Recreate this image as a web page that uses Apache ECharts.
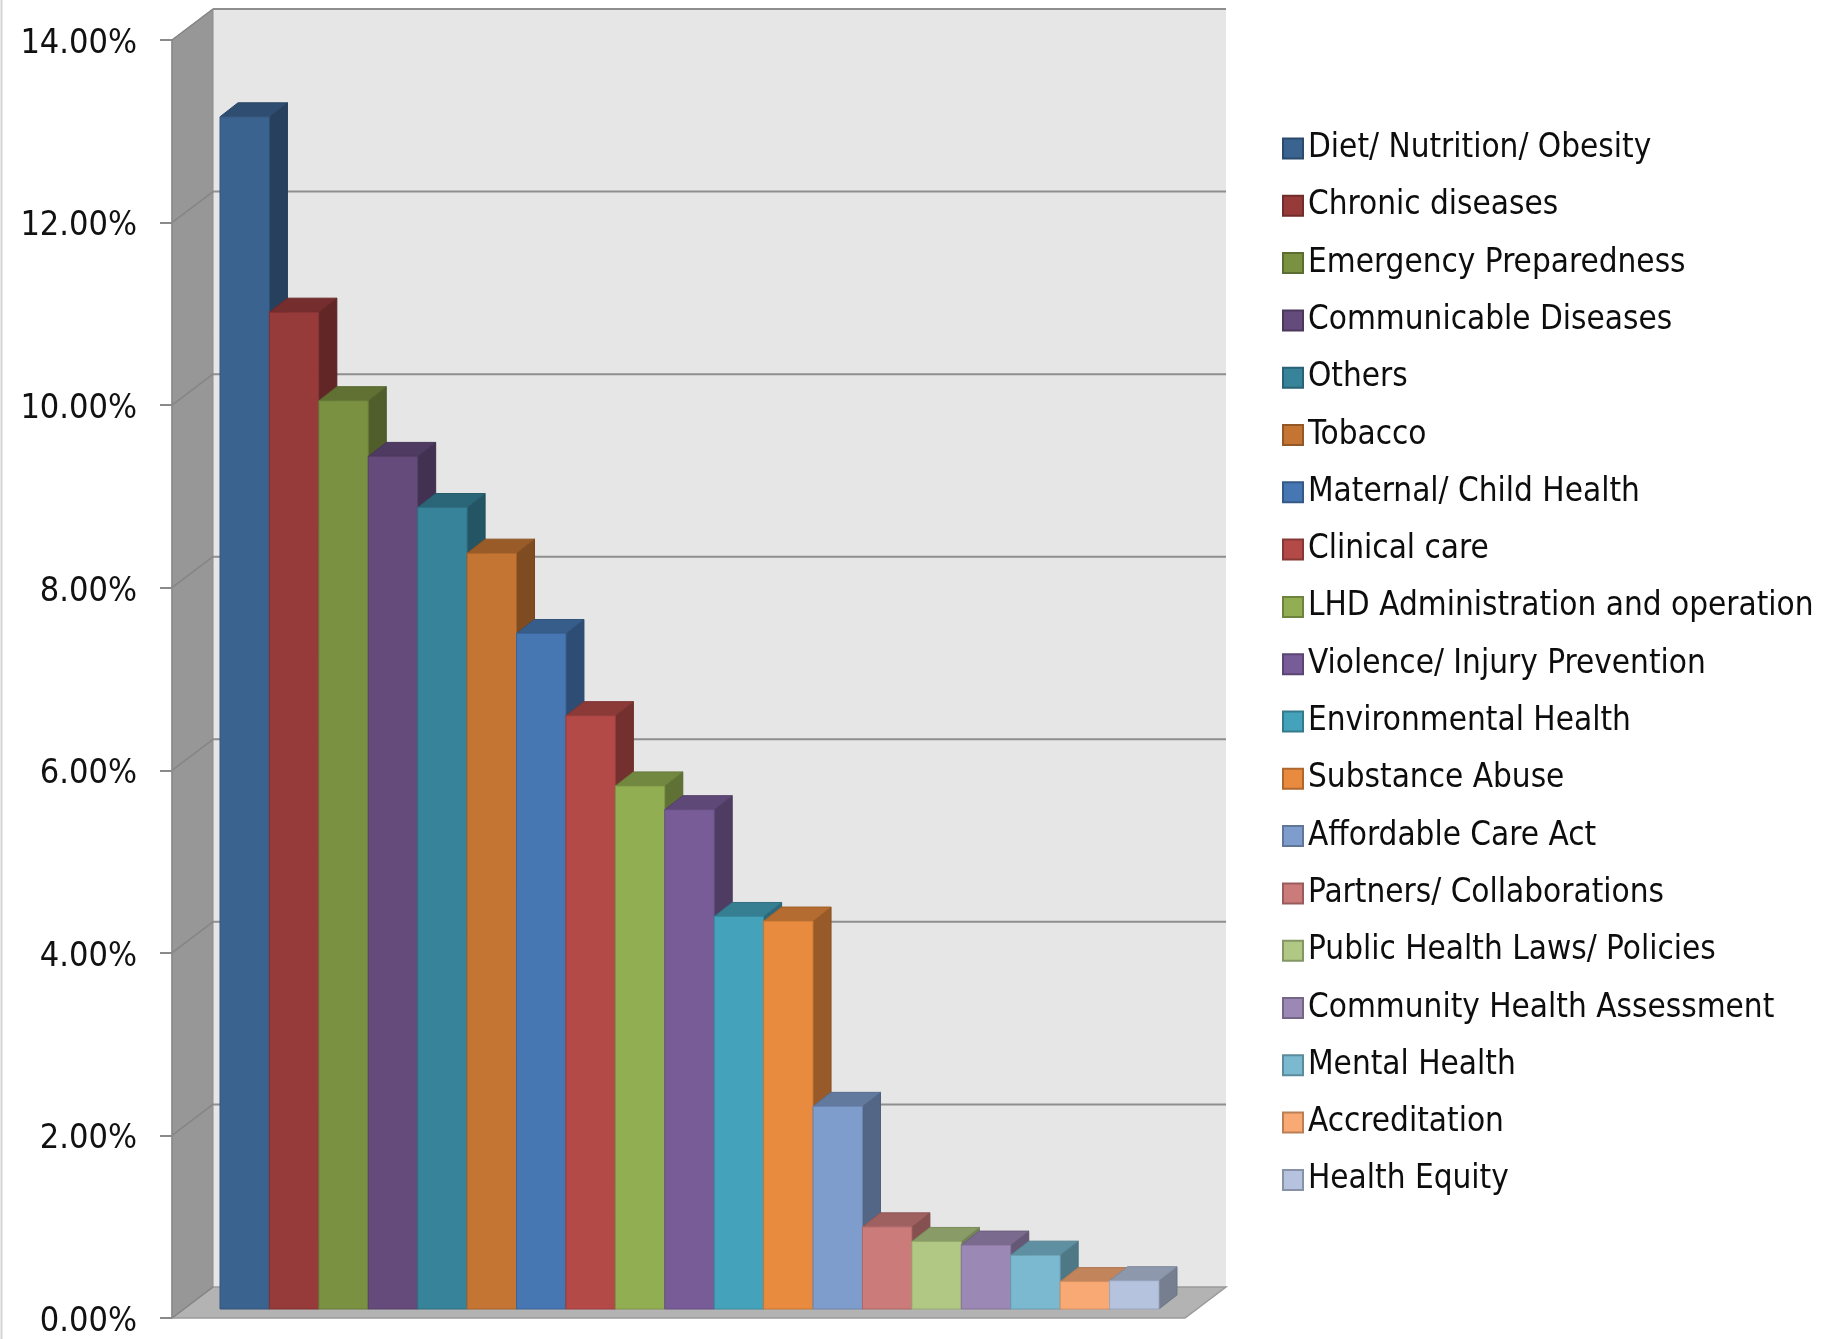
<!DOCTYPE html>
<html>
<head>
<meta charset="utf-8">
<style>
  html, body { margin: 0; padding: 0; background: #fff; }
  #chart { width: 1839px; height: 1339px; }
</style>
<script src="https://cdn.jsdelivr.net/npm/echarts@6/dist/echarts.min.js"></script>
</head>
<body>
<div id="chart"></div>
<script>
const categories = [
  'Diet/ Nutrition/ Obesity', 'Chronic diseases', 'Emergency Preparedness',
  'Communicable Diseases', 'Others', 'Tobacco', 'Maternal/ Child Health',
  'Clinical care', 'LHD Administration and operation', 'Violence/ Injury Prevention',
  'Environmental Health', 'Substance Abuse', 'Affordable Care Act',
  'Partners/ Collaborations', 'Public Health Laws/ Policies',
  'Community Health Assessment', 'Mental Health', 'Accreditation', 'Health Equity'
];
const shares = [13.06, 10.92, 9.95, 9.34, 8.78, 8.28, 7.40, 6.50, 5.73, 5.47,
  4.30, 4.25, 2.22, 0.90, 0.74, 0.70, 0.59, 0.30, 0.31];
const barColors = [
  '#3b6390', '#963a3a', '#7b9142', '#654b7c', '#37839a', '#c47533', '#4677b2',
  '#b34a47', '#92ae52', '#785c98', '#45a2bb', '#e88b3e', '#7f9dcc', '#cc7b7b',
  '#b0c884', '#9c88b5', '#7ab9cf', '#f9a974', '#b5c3de'
];
const yTicks = [0, 2, 4, 6, 8, 10, 12, 14];

const FONT = "'DejaVu Sans Condensed', 'DejaVu Sans', sans-serif";
const WALL = [41, -31];     // depth of the box (back wall offset)
const BAR_DEPTH = [18, -14]; // depth of each bar

function shade(hex, f) {
  const n = parseInt(hex.slice(1), 16);
  const r = Math.round(((n >> 16) & 255) * f);
  const g = Math.round(((n >> 8) & 255) * f);
  const b = Math.round((n & 255) * f);
  return 'rgb(' + r + ',' + g + ',' + b + ')';
}

const chart = echarts.init(document.getElementById('chart'));

// back wall, floor and side wall, plus the grid lines
function renderWalls(params, api) {
  const bl = api.coord([0, 0]);
  const br = api.coord([1, 0]);
  const tl = api.coord([0, 14]);
  const dx = WALL[0], dy = WALL[1];
  const kids = [];
  kids.push({ type: 'rect', shape: { x: bl[0] + dx, y: tl[1] + dy, width: br[0] - bl[0], height: bl[1] - tl[1] },
    style: { fill: '#e6e6e6' } });
  kids.push({ type: 'polygon', shape: { points: [[bl[0], bl[1]], [br[0], br[1]], [br[0] + dx, br[1] + dy], [bl[0] + dx, bl[1] + dy]] },
    style: { fill: '#b3b3b3', stroke: '#9a9a9a', lineWidth: 1.5 } });
  kids.push({ type: 'polygon', shape: { points: [[bl[0], bl[1]], [tl[0], tl[1]], [tl[0] + dx, tl[1] + dy], [bl[0] + dx, bl[1] + dy]] },
    style: { fill: '#979797', stroke: '#8c8c8c', lineWidth: 1 } });
  yTicks.forEach(function (t) {
    const p = api.coord([0, t]);
    if (t > 0) {
      kids.push({ type: 'line', shape: { x1: p[0] + dx, y1: p[1] + dy, x2: br[0] + dx, y2: p[1] + dy },
        style: { stroke: '#8e8e8e', lineWidth: 2 } });
    }
    kids.push({ type: 'line', shape: { x1: p[0], y1: p[1], x2: p[0] + dx, y2: p[1] + dy },
      style: { stroke: '#858585', lineWidth: 1.5 } });
  });
  return { type: 'group', children: kids };
}

function renderBar(params, api) {
  const base = api.coord([api.value(0), 0]);
  const tip = api.coord([api.value(0), api.value(1)]);
  const w = api.size([1, 0])[0];
  const c = barColors[params.seriesIndex - 1];
  const l = base[0] - w / 2, r = l + w, t = tip[1], b = base[1];
  const dx = BAR_DEPTH[0], dy = BAR_DEPTH[1];
  return {
    type: 'group',
    children: [
      { type: 'polygon', shape: { points: [[r, t], [r + dx, t + dy], [r + dx, b + dy], [r, b]] },
        style: { fill: shade(c, 0.65), stroke: shade(c, 0.6), lineWidth: 1 } },
      { type: 'polygon', shape: { points: [[l, t], [r, t], [r + dx, t + dy], [l + dx, t + dy]] },
        style: { fill: shade(c, 0.78), stroke: shade(c, 0.7), lineWidth: 1 } },
      { type: 'rect', shape: { x: l, y: t, width: w, height: b - t },
        style: { fill: c, stroke: shade(c, 0.85), lineWidth: 1 } }
    ]
  };
}

const series = [{
  type: 'custom',
  name: 'walls',
  xAxisIndex: 0,
  yAxisIndex: 0,
  silent: true,
  z: 1,
  data: [[0, 0]],
  renderItem: renderWalls
}];
categories.forEach(function (name, i) {
  series.push({
    type: 'custom',
    name: name,
    xAxisIndex: 1,
    yAxisIndex: 1,
    z: 3,
    itemStyle: { color: barColors[i], borderColor: shade(barColors[i], 0.75), borderWidth: 1 },
    data: [[i, shares[i]]],
    renderItem: renderBar
  });
});

chart.setOption({
  animation: false,
  backgroundColor: '#fff',
  grid: [
    { left: 172, top: 40, width: 1013, height: 1278 },
    { left: 220, top: 31, width: 939, height: 1278 }
  ],
  xAxis: [
    { gridIndex: 0, type: 'value', min: 0, max: 1, show: false },
    { gridIndex: 1, type: 'category', data: categories, show: false }
  ],
  yAxis: [
    {
      gridIndex: 0, type: 'value', min: 0, max: 14, interval: 2, z: 2,
      axisLine: { show: true, lineStyle: { color: '#8a8a8a', width: 1.5 } },
      axisTick: { show: true, length: 12, lineStyle: { color: '#8a8a8a', width: 2 } },
      splitLine: { show: false },
      axisLabel: {
        margin: 35, color: '#111',
        formatter: function (v) { return '{p|' + v.toFixed(2) + '%}'; },
        rich: {
          p: { fontSize: 34, fontFamily: FONT, color: '#111', padding: [8, 0, 0, 0] }
        }
      }
    },
    { gridIndex: 1, type: 'value', min: 0, max: 14, show: false }
  ],
  legend: {
    data: categories,
    orient: 'vertical',
    left: 1277,
    top: 127,
    icon: 'rect',
    itemWidth: 20,
    itemHeight: 20,
    itemGap: 24.3,
    selectedMode: false,
    textStyle: { fontSize: 33, lineHeight: 33, fontFamily: FONT, color: '#0d0d0d' }
  },
  graphic: [{
    type: 'line', silent: true,
    shape: { x1: 1.5, y1: 0, x2: 1.5, y2: 1339 },
    style: { stroke: '#d4d4d4', lineWidth: 2 }
  }],
  series: series
});
</script>
</body>
</html>
